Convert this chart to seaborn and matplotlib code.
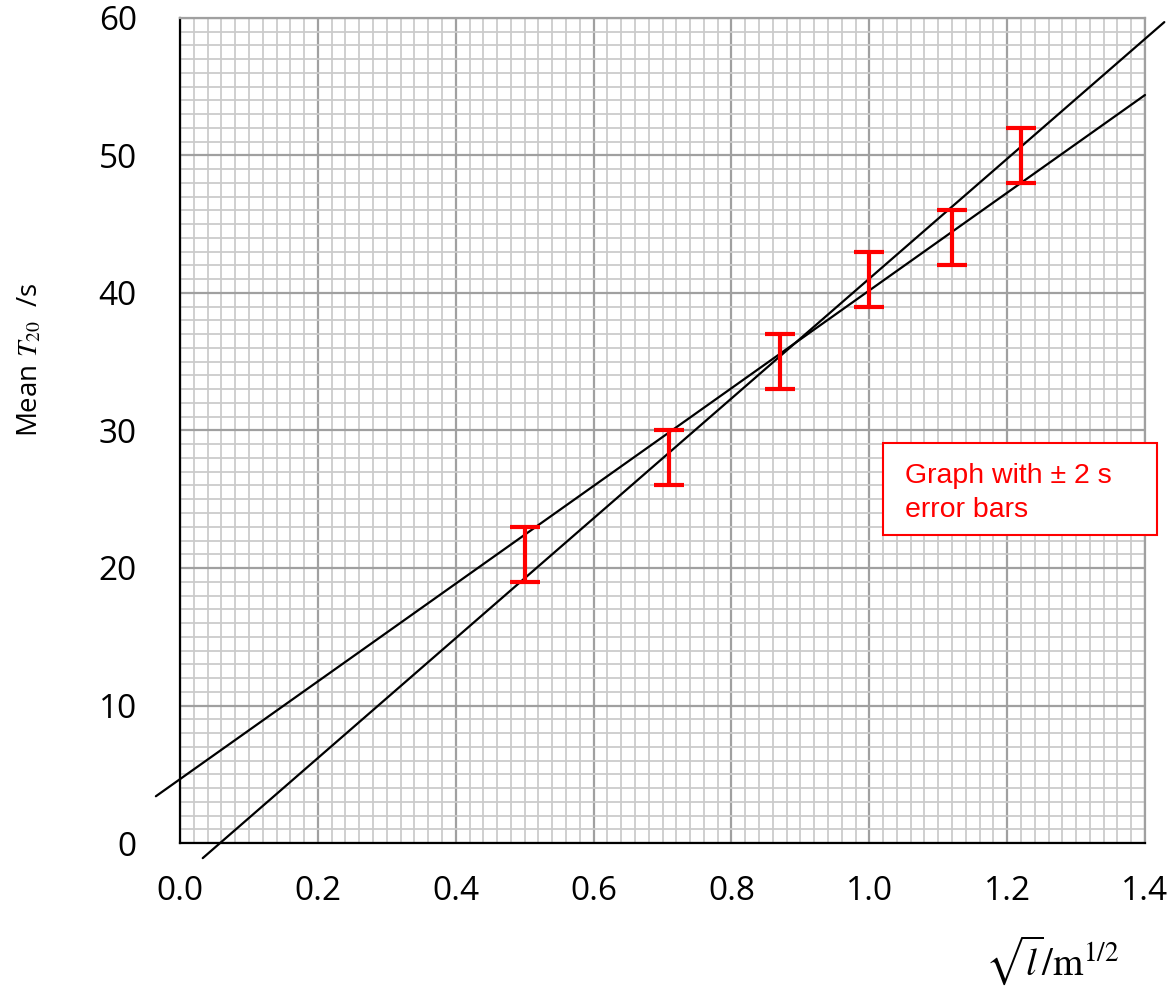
import numpy as np
import pandas as pd
import matplotlib
matplotlib.use("Agg")
import matplotlib.pyplot as plt
from matplotlib.ticker import MultipleLocator, FormatStrFormatter
from matplotlib.patches import Rectangle
import seaborn as sns

# ── data ───────────────────────────────────────────────────────────────────
sqrt_l   = [0.50, 0.71, 0.87, 1.00, 1.12, 1.22]   # sqrt(l) / m^1/2
mean_t20 = [21, 28, 35, 41, 44, 50]               # mean T20 / s
t_err    = [2, 2, 2, 2, 2, 2]                     # +/- 2 s

# max / min gradient lines (end points)
steep_x   = [0.033, 1.428]
steep_y   = [-1.1, 59.7]
shallow_x = [-0.035, 1.40]
shallow_y = [3.4, 54.4]

x_ticks = [0.0, 0.2, 0.4, 0.6, 0.8, 1.0, 1.2, 1.4]
y_ticks = [0, 10, 20, 30, 40, 50, 60]

MAJOR_GREY = "#a0a0a0"
MINOR_GREY = "#cbcbcb"

sns.set_style("white")
plt.rcParams["font.family"] = ["Open Sans", "DejaVu Sans"]
plt.rcParams["mathtext.fontset"] = "stix"
plt.rcParams["text.color"] = "black"
plt.rcParams["xtick.labelcolor"] = "black"
plt.rcParams["ytick.labelcolor"] = "black"

fig = plt.figure(figsize=(11.74, 9.9), dpi=100)
ax = fig.add_axes([180 / 1174, 147 / 990, 965 / 1174, 825 / 990])

# ── grid ───────────────────────────────────────────────────────────────────
ax.set_xlim(0, 1.4)
ax.set_ylim(0, 60)
ax.set_xticks(x_ticks)
ax.set_yticks(y_ticks)
ax.xaxis.set_minor_locator(MultipleLocator(0.02))
ax.yaxis.set_minor_locator(MultipleLocator(1))
ax.xaxis.set_major_formatter(FormatStrFormatter("%.1f"))
ax.grid(which="minor", color=MINOR_GREY, linewidth=1.3)
ax.grid(which="major", color=MAJOR_GREY, linewidth=1.6)
ax.set_axisbelow(True)

# ── best-fit lines ─────────────────────────────────────────────────────────
lines = pd.DataFrame({
    "x": steep_x + shallow_x,
    "y": steep_y + shallow_y,
    "line": ["steep"] * 2 + ["shallow"] * 2,
})
for name, grp in lines.groupby("line"):
    sns.lineplot(data=grp, x="x", y="y", ax=ax, color="black",
                 linewidth=1.6, sort=False, estimator=None,
                 clip_on=False, zorder=3)

# ── error bars ─────────────────────────────────────────────────────────────
ax.errorbar(sqrt_l, mean_t20, yerr=t_err, fmt="none", ecolor="#ff0000",
            elinewidth=3.0, capsize=10.8, capthick=3.0, zorder=4)

# ── axes cosmetics ─────────────────────────────────────────────────────────
for side in ["left", "bottom"]:
    ax.spines[side].set_color("black")
    ax.spines[side].set_linewidth(1.6)
for side in ["top", "right"]:
    ax.spines[side].set_color(MAJOR_GREY)
    ax.spines[side].set_linewidth(1.6)

ax.tick_params(which="minor", length=0)
ax.tick_params(axis="x", which="major", direction="out", length=4, width=1.5,
               color="black", pad=19, labelsize=24, labelcolor="black")
ax.tick_params(axis="y", which="major", direction="out", length=4, width=1.5,
               color="black", pad=27, labelsize=24, labelcolor="black")
ax.set_xlabel("")
ax.set_ylabel("")

fig.text(30 / 1174, 1 - 360 / 990, r"Mean $T_{20}$  /s", rotation=90,
         ha="center", va="center", fontsize=20, color="black")
fig.text(1052 / 1174, 1 - 960 / 990, r"$\sqrt{l}/\mathrm{m}^{1/2}$",
         ha="center", va="center", fontsize=28, color="black")

# ── annotation box ─────────────────────────────────────────────────────────
box = Rectangle((1.020, 22.4), 0.398, 6.7, transform=ax.transData,
                facecolor="white", edgecolor="#ff0000", linewidth=1.5,
                clip_on=False, zorder=5)
ax.add_patch(box)
ax.text(1.052, 26.2, "Graph with \u00b1 2 s", color="#ff0000", fontsize=20.5,
        family="Liberation Sans", va="baseline", ha="left", zorder=6)
ax.text(1.052, 23.7, "error bars", color="#ff0000", fontsize=20.5,
        family="Liberation Sans", va="baseline", ha="left", zorder=6)

fig.savefig("out.png", dpi=100)
